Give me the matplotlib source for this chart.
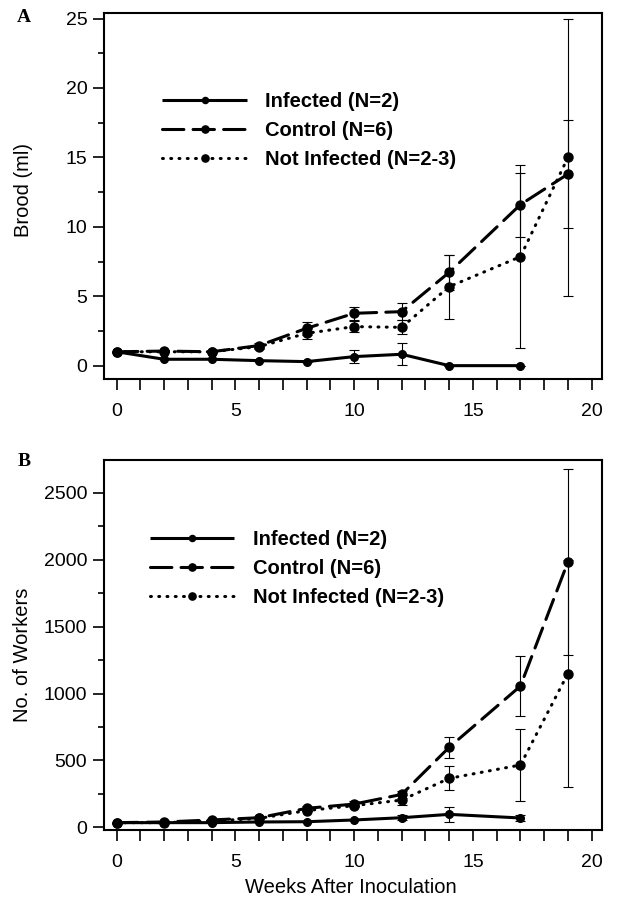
import matplotlib
matplotlib.use("Agg")
import matplotlib.pyplot as plt
from matplotlib.ticker import MultipleLocator

plt.rcParams['font.family'] = ['Liberation Sans', 'DejaVu Sans']

weeks = [0, 2, 4, 6, 8, 10, 12, 14, 17, 19]
weeks_inf = [0, 2, 4, 6, 8, 10, 12, 14, 17]

# panel A - brood (ml)
brood_inf = [1.0, 0.46, 0.46, 0.36, 0.29, 0.65, 0.82, 0.0, 0.0]
brood_inf_err = [0, 0, 0, 0, 0, 0.48, 0.8, 0, 0]
brood_ctl = [1.0, 1.05, 1.0, 1.45, 2.69, 3.77, 3.89, 6.72, 11.6, 13.8]
brood_ctl_err = [0, 0, 0, 0.15, 0.45, 0.45, 0.6, 1.28, 2.3, 3.9]
brood_not = [1.0, 1.0, 1.0, 1.37, 2.33, 2.81, 2.76, 5.69, 7.85, 15.0]
brood_not_err = [0, 0, 0, 0.15, 0.4, 0.4, 0.5, 2.3, 6.6, 10.0]

# panel B - number of workers
work_inf = [35, 35, 35, 40, 42, 55, 72, 97, 70]
work_inf_err = [0, 0, 0, 0, 0, 0, 20, 57, 20]
work_ctl = [35, 40, 55, 72, 142, 174, 246, 598, 1056, 1985]
work_ctl_err = [0, 0, 0, 0, 20, 20, 25, 80, 225, 697]
work_not = [35, 35, 47, 67, 125, 162, 204, 366, 466, 1150]
work_not_err = [0, 0, 0, 0, 0, 0, 40, 90, 267, 850]

labels = ["Infected (N=2)", "Control (N=6)", "Not Infected (N=2-3)"]

fig = plt.figure(figsize=(6.4, 9.11), dpi=100)
axA = fig.add_axes([0.1625, 0.584, 0.778, 0.4017])
axB = fig.add_axes([0.1625, 0.0889, 0.778, 0.406])

LW = 2.2
styles = {
    "inf": dict(linestyle="-", ms=5.5),
    "ctl": dict(linestyle=(0, (7, 3)), ms=6.5),
    "not": dict(linestyle=(0, (0.3, 2.4)), ms=6.5),
}


def draw_panel(ax, series, leg_xy):
    handles = []
    for key, x, y, err in series:
        st = styles[key]
        ax.errorbar(x, y, yerr=err, fmt="none", ecolor="black",
                    elinewidth=0.8, capsize=3.5, capthick=0.8, zorder=2)
        h, = ax.plot(x, y, color="black", lw=LW, linestyle=st["linestyle"],
                     marker="o", ms=st["ms"], dash_capstyle="round",
                     solid_capstyle="butt", zorder=3)
        handles.append(h)
    ax.legend(handles, labels, loc="upper left", bbox_to_anchor=leg_xy,
              frameon=False, handlelength=4.2, handletextpad=0.9,
              labelspacing=0.5, borderpad=0, borderaxespad=0,
              markerscale=0.8, prop={"weight": "bold", "size": 14.5})
    ax.set_xlim(-0.53, 20.43)
    ax.xaxis.set_major_locator(MultipleLocator(5))
    ax.xaxis.set_minor_locator(MultipleLocator(1))
    ax.tick_params(axis="both", which="both", direction="out", labelsize=14,
                   width=1.2)
    ax.tick_params(axis="x", which="both", length=8, pad=9)
    ax.tick_params(axis="y", which="major", length=8, pad=4)
    ax.tick_params(axis="y", which="minor", length=4)
    for s in ax.spines.values():
        s.set_linewidth(1.5)


draw_panel(axA, [("inf", weeks_inf, brood_inf, brood_inf_err),
                 ("ctl", weeks, brood_ctl, brood_ctl_err),
                 ("not", weeks, brood_not, brood_not_err)],
           (0.117, 0.785))
axA.set_ylim(-0.96, 25.4)
axA.yaxis.set_major_locator(MultipleLocator(5))
axA.yaxis.set_minor_locator(MultipleLocator(2.5))
axA.set_ylabel("Brood (ml)", fontsize=14.5)
axA.yaxis.set_label_coords(-0.143, 0.516)

draw_panel(axB, [("inf", weeks_inf, work_inf, work_inf_err),
                 ("ctl", weeks, work_ctl, work_ctl_err),
                 ("not", weeks, work_not, work_not_err)],
           (0.092, 0.812))
axB.set_ylim(-20, 2745)
axB.yaxis.set_major_locator(MultipleLocator(500))
axB.yaxis.set_minor_locator(MultipleLocator(250))
axB.set_ylabel("No. of Workers", fontsize=14.5)
axB.yaxis.set_label_coords(-0.145, 0.473)
axB.set_xlabel("Weeks After Inoculation", fontsize=14.5)
axB.xaxis.set_label_coords(0.496, -0.13)

fig.text(24 / 640, 1 - 18 / 911, "A", family="Liberation Serif",
         weight="bold", fontsize=14, ha="center", va="center")
fig.text(24 / 640, 1 - 462 / 911, "B", family="Liberation Serif",
         weight="bold", fontsize=14, ha="center", va="center")

fig.savefig("out.png", dpi=100)
